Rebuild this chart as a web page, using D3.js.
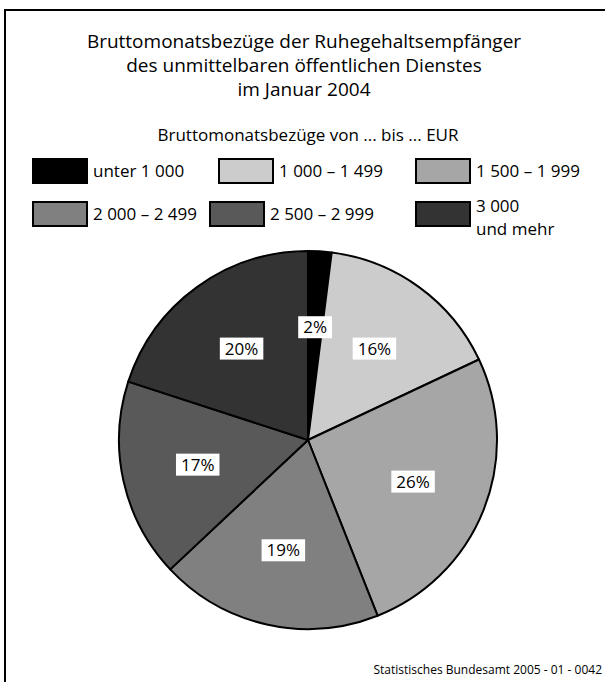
<!DOCTYPE html>
<html>
<head>
<meta charset="utf-8">
<style>
  body { margin: 0; background: #fff; }
  svg { display: block; font-family: "Open Sans", sans-serif; }
</style>
</head>
<body>
<div id="chart"></div>
<script src="https://d3js.org/d3.v7.min.js"></script>
<script>
  // ---- data ----
  var titleLines = ["Bruttomonatsbezüge der Ruhegehaltsempfänger",
                    "des unmittelbaren öffentlichen Dienstes",
                    "im Januar 2004"];
  var legendTitle = "Bruttomonatsbezüge von ... bis ... EUR";
  var categories = ["unter 1 000", "1 000 – 1 499", "1 500 – 1 999",
                    "2 000 – 2 499", "2 500 – 2 999", "3 000|und mehr"];
  var shares = [2, 16, 26, 19, 17, 20];
  var greys = ["#000000", "#cccccc", "#a6a6a6", "#808080", "#595959", "#333333"];
  var source = "Statistisches Bundesamt 2005 - 01 - 0042";

  var W = 605, H = 682;
  var cx = 308, cy = 440, R = 189;

  var svg = d3.select("#chart").append("svg")
    .attr("width", W)
    .attr("height", H);

  // frame: only left and top edges are visible
  svg.append("path")
    .attr("d", "M5," + H + "V10H" + W)
    .attr("fill", "none")
    .attr("stroke", "#000")
    .attr("stroke-width", 2);

  // title
  svg.append("g").selectAll("text")
    .data(titleLines)
    .enter().append("text")
    .attr("x", 304)
    .attr("y", function(d, i) { return 48 + i * 24; })
    .attr("text-anchor", "middle")
    .style("font-size", "19px")
    .text(function(d) { return d; });

  svg.append("text")
    .attr("x", 308)
    .attr("y", 141)
    .attr("text-anchor", "middle")
    .style("font-size", "17px")
    .text(legendTitle);

  // legend
  var colX = [[33, 219, 416], [33, 210, 416]];
  var rowY = [159, 202];
  var legend = svg.append("g").selectAll("g")
    .data(categories)
    .enter().append("g")
    .attr("transform", function(d, i) {
      var r = Math.floor(i / 3), c = i % 3;
      return "translate(" + colX[r][c] + "," + rowY[r] + ")";
    });

  legend.append("rect")
    .attr("width", 54)
    .attr("height", 24)
    .attr("fill", function(d, i) { return greys[i]; })
    .attr("stroke", "#000")
    .attr("stroke-width", 2);

  legend.each(function(d) {
    var lines = d.split("|");
    var sel = d3.select(this);
    if (lines.length === 1) {
      sel.append("text")
        .attr("x", 60)
        .attr("y", 18)
        .style("font-size", "17px")
        .text(d);
    } else {
      // two separate lines for the last entry
      lines.forEach(function(l, j) {
        sel.append("text")
          .attr("x", 60)
          .attr("y", 10 + j * 23)
          .style("font-size", "17px")
          .text(l);
      });
    }
  });

  // pie
  var pie = d3.pie().sort(null).value(function(d) { return d; });
  var arc = d3.arc().innerRadius(0).outerRadius(R);
  var labelArc = d3.arc().innerRadius(113).outerRadius(113);

  var g = svg.append("g")
    .attr("transform", "translate(" + cx + "," + cy + ")");

  var arcs = pie(shares);

  g.selectAll("path")
    .data(arcs)
    .enter().append("path")
    .attr("d", arc)
    .attr("fill", function(d, i) { return greys[i]; })
    .attr("stroke", "#000")
    .attr("stroke-width", 2)
    .attr("stroke-linejoin", "round");

  var labels = g.selectAll(".lbl")
    .data(arcs)
    .enter().append("g")
    .attr("class", "lbl")
    .attr("transform", function(d) { return "translate(" + labelArc.centroid(d) + ")"; });

  labels.append("rect").attr("fill", "#fff");
  labels.append("text")
    .attr("text-anchor", "middle")
    .attr("dy", "0.36em")
    .style("font-size", "17px")
    .text(function(d) { return d.data + "%"; });

  labels.each(function() {
    var b = d3.select(this).select("text").node().getBBox();
    d3.select(this).select("rect")
      .attr("x", -b.width / 2 - 5)
      .attr("y", -11)
      .attr("width", b.width + 10)
      .attr("height", 22);
  });

  // source note
  svg.append("text")
    .attr("x", 602)
    .attr("y", 674)
    .attr("text-anchor", "end")
    .style("font-size", "12px")
    .text(source);
</script>
</body>
</html>
